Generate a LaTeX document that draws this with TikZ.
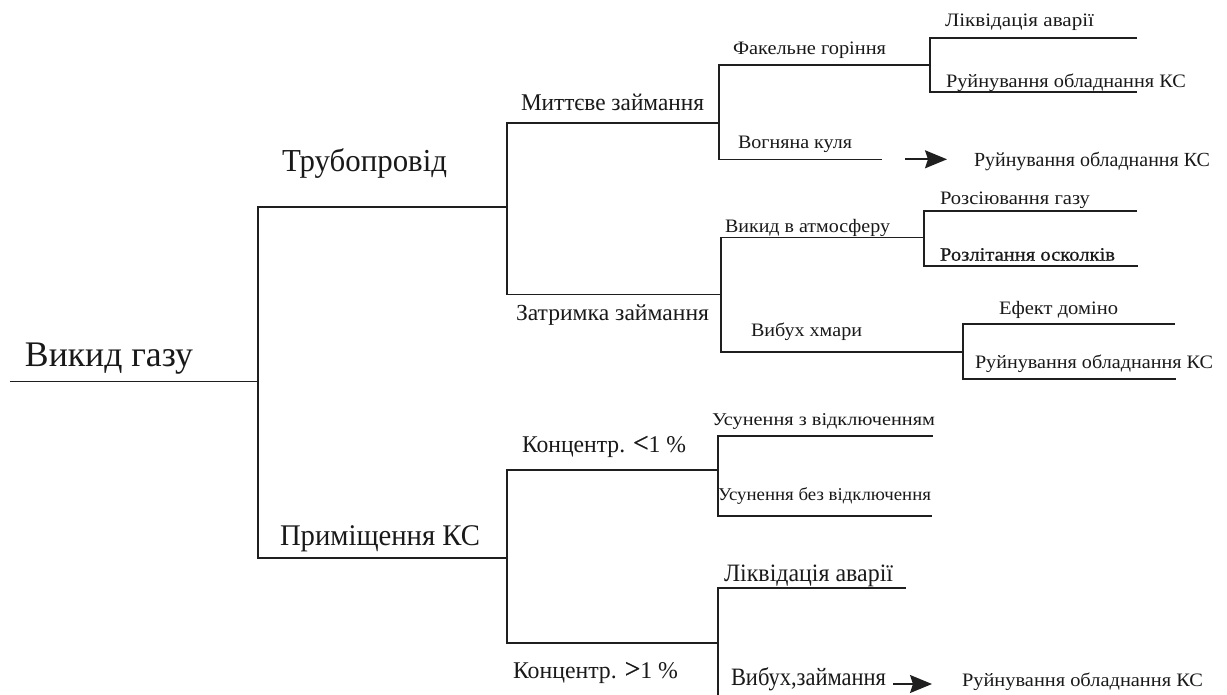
\documentclass[tikz,border=0pt]{standalone}
\usepackage{fontspec}
\setmainfont{Liberation Serif}
\newfontfamily\semib[FakeBold=0.7]{Liberation Serif}
\usetikzlibrary{arrows.meta}
\newcommand{\tx}[3]{\resizebox{#2pt}{\height}{\fontsize{#1}{#1}\selectfont #3}}
\tikzset{
  ln/.style={line width=1.7pt, draw=black!88},
  lbl/.style={anchor=base west, inner sep=0pt, outer sep=0pt, text=black!90},
  arr/.style={ln, -{Stealth[length=22pt,width=18pt,inset=3pt]}}
}
\begin{document}
\begin{tikzpicture}[x=1pt,y=-1pt]
\useasboundingbox (0,0) rectangle (1227,695);
% ---- coordinates ----
\coordinate (r0) at (10,381.5);
\coordinate (r1) at (258,381.5);
\coordinate (t0) at (258,207);
\coordinate (t1) at (507,207);
\coordinate (p0) at (258,558);
\coordinate (p1) at (507,558);
\coordinate (m0) at (507,123);
\coordinate (m1) at (719,123);
\coordinate (z0) at (507,294.5);
\coordinate (z1) at (721,294.5);
\coordinate (f0) at (719,65.3);
\coordinate (f1) at (930,65.3);
\coordinate (v0) at (719,159.5);
\coordinate (v1) at (882,159.5);
\coordinate (va) at (905,159.3);
\coordinate (vb) at (947,159.3);
\coordinate (l0) at (930,38.3);
\coordinate (l1) at (1137,38.3);
\coordinate (k0) at (930,91.7);
\coordinate (k1) at (1137,91.7);
\coordinate (a0) at (721,237.5);
\coordinate (a1) at (924,237.5);
\coordinate (b0) at (721,351.7);
\coordinate (b1) at (963,351.7);
\coordinate (g0) at (924,210.7);
\coordinate (g1) at (1137,210.7);
\coordinate (o0) at (924,266);
\coordinate (o1) at (1138,266);
\coordinate (e0) at (963,324);
\coordinate (e1) at (1175,324);
\coordinate (q0) at (963,379);
\coordinate (q1) at (1176,379);
\coordinate (c0) at (507,470);
\coordinate (c1) at (718,470);
\coordinate (d0) at (507,643);
\coordinate (d1) at (718,643);
\coordinate (u0) at (718,436);
\coordinate (u1) at (933,436);
\coordinate (w0) at (718,516);
\coordinate (w1) at (932,516);
\coordinate (h0) at (718,588);
\coordinate (h1) at (906,588);
\coordinate (hb) at (718,695);
\coordinate (xa) at (893,684);
\coordinate (xb) at (932,684);
% ---- lines ----
\draw[ln] (r0) -- (r1);
\draw[ln] (t1) -- (t0) -- (p0) -- (p1);
\draw[ln] (m1) -- (m0) -- (z0) -- (z1);
\draw[ln] (f1) -- (f0) -- (v0) -- (v1);
\draw[arr] (va) -- (vb);
\draw[ln] (l1) -- (l0) -- (k0) -- (k1);
\draw[ln] (a1) -- (a0) -- (b0) -- (b1);
\draw[ln] (g1) -- (g0) -- (o0) -- (o1);
\draw[ln] (e1) -- (e0) -- (q0) -- (q1);
\draw[ln] (c1) -- (c0) -- (d0) -- (d1);
\draw[ln] (u1) -- (u0) -- (w0) -- (w1);
\draw[ln] (h1) -- (h0) -- (hb);
\draw[arr] (xa) -- (xb);
% ---- labels ----
\node[lbl] (nroot) at (25,366) {\tx{36}{168}{Викид газу}};
\node[lbl] (ntr) at (282,172) {\tx{32}{165}{Трубопровід}};
\node[lbl] (npr) at (280,545) {\tx{30}{200}{Приміщення КС}};
\node[lbl] (nmz) at (521,111) {\tx{24}{183}{Миттєве займання}};
\node[lbl] (nzz) at (516,320) {\tx{23}{193}{Затримка займання}};
\node[lbl] (nfh) at (733,55) {\tx{19}{153}{Факельне горіння}};
\node[lbl] (nla) at (945,27) {\tx{19}{149}{Ліквідація аварії}};
\node[lbl] (nr1) at (946,88) {\tx{19}{240}{Руйнування обладнання КС}};
\node[lbl] (nvk) at (738,148.5) {\tx{19}{114}{Вогняна куля}};
\node[lbl] (nr2) at (974,166.7) {\tx{20}{236}{Руйнування обладнання КС}};
\node[lbl] (nva) at (725,233) {\tx{19}{165}{Викид в атмосферу}};
\node[lbl] (nvh) at (751,336.7) {\tx{19}{111}{Вибух хмари}};
\node[lbl] (nrg) at (940,205) {\tx{19}{150}{Розсіювання газу}};
\node[lbl] (nro) at (940,260.7) {\tx{19}{175}{\semib Розлітання осколків}};
\node[lbl] (ned) at (999,315) {\tx{19}{119}{Ефект доміно}};
\node[lbl] (nr3) at (975,368.3) {\tx{19}{238}{Руйнування обладнання КС}};
\node[lbl] (nk1) at (522,452) {\tx{24}{164}{Концентр. {\semib\fontsize{28}{28}\selectfont <}1 \%}};
\node[lbl] (nk2) at (513,678) {\tx{24}{165}{Концентр. {\semib\fontsize{28}{28}\selectfont >}1 \%}};
\node[lbl] (nu1) at (712,425) {\tx{18}{223}{Усунення з відключенням}};
\node[lbl] (nu2) at (718,500) {\tx{18}{213}{Усунення без відключення}};
\node[lbl] (nl2) at (724,581.7) {\tx{25}{169}{Ліквідація аварії}};
\node[lbl] (nvz) at (731,685) {\tx{25}{155}{Вибух,займання}};
\node[lbl] (nr4) at (962,686) {\tx{19}{241}{Руйнування обладнання КС}};
\end{tikzpicture}
\end{document}
